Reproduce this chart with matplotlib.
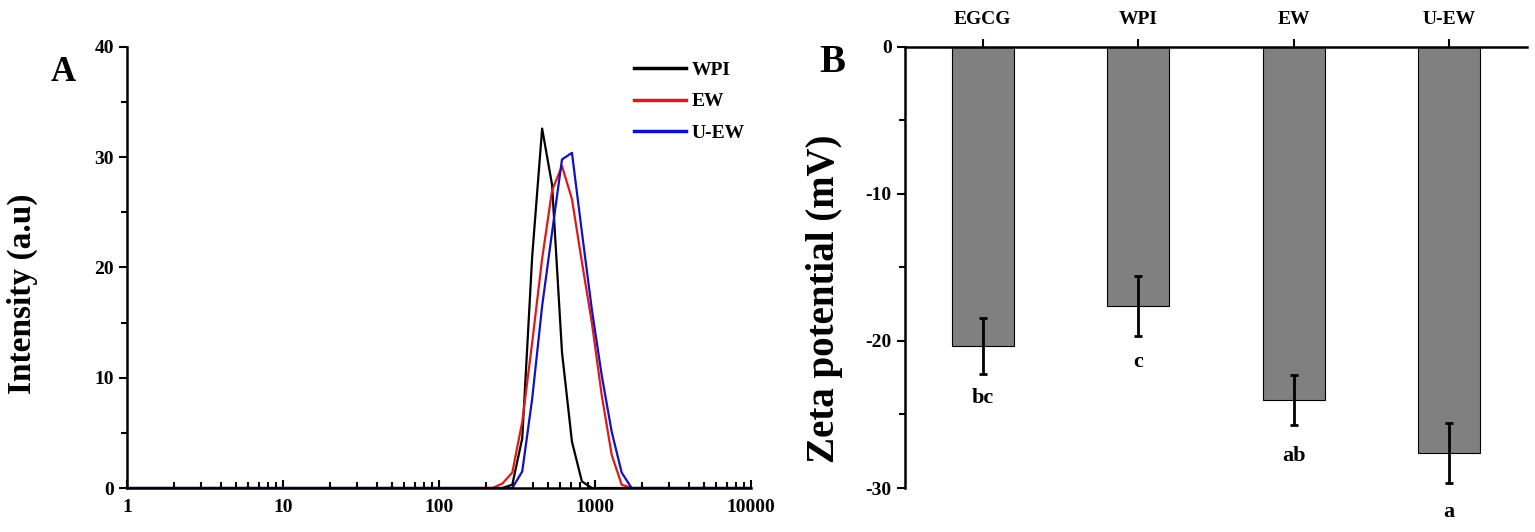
import numpy as np
import matplotlib
matplotlib.use("Agg")
import matplotlib.pyplot as plt
from matplotlib.ticker import MultipleLocator, LogLocator, NullFormatter

plt.rcParams['font.family'] = ['Liberation Serif', 'DejaVu Serif']
plt.rcParams['font.weight'] = 'bold'
plt.rcParams['axes.unicode_minus'] = False

# panel A: size distribution (nm) vs intensity
sizes = [1, 220, 255, 295.3, 342, 396.1, 458.7, 531.2, 615.1, 712.4, 825, 955.4,
         1106, 1281, 1484, 1718, 1990, 10000]
wpi = [0, 0, 0, 0.3, 4.5, 21.0, 32.6, 27.5, 12.3, 4.2, 0.6, 0, 0, 0, 0, 0, 0, 0]
ew = [0, 0, 0.4, 1.4, 6.0, 13.2, 20.8, 27.0, 29.2, 26.2, 20.5, 15.0, 8.4, 3.0, 0.3, 0, 0, 0]
uew = [0, 0, 0, 0, 1.5, 8.1, 16.5, 23.2, 29.8, 30.4, 23.2, 16.2, 10.2, 5.1, 1.4, 0, 0, 0]

# panel B: zeta potential
samples = ['EGCG', 'WPI', 'EW', 'U-EW']
zeta = [-20.35, -17.6, -24.0, -27.6]
zeta_err = [1.9, 2.05, 1.7, 2.05]
letters = ['bc', 'c', 'ab', 'a']
letter_y = [-23.9, -21.4, -27.8, -31.6]

fig = plt.figure(figsize=(15.35, 5.32), dpi=100)
ax1 = fig.add_axes([0.0827, 0.0827, 0.4065, 0.829])
ax2 = fig.add_axes([0.5896, 0.0827, 0.4052, 0.829])

# ---- A ----
ax1.plot(sizes, wpi, color='black', lw=1.6, label='WPI')
ax1.plot(sizes, ew, color='#e01818', lw=1.6, label='EW')
ax1.plot(sizes, uew, color='#1010c8', lw=1.6, label='U-EW')
ax1.set_xscale('log')
ax1.set_xlim(1, 10000)
ax1.set_ylim(0, 40)
ax1.xaxis.set_minor_locator(LogLocator(base=10, subs=np.arange(2, 10), numticks=20))
ax1.xaxis.set_minor_formatter(NullFormatter())
ax1.set_xticks([1, 10, 100, 1000, 10000])
ax1.set_xticklabels(['1', '10', '100', '1000', '10000'])
ax1.yaxis.set_major_locator(MultipleLocator(10))
ax1.yaxis.set_minor_locator(MultipleLocator(5))
for s in ['top', 'right']:
    ax1.spines[s].set_visible(False)
for s in ['left', 'bottom']:
    ax1.spines[s].set_linewidth(1.8)
ax1.tick_params(axis='x', which='both', direction='in', width=1.5, labelsize=14, pad=8)
ax1.tick_params(axis='x', which='major', length=6)
ax1.tick_params(axis='x', which='minor', length=4)
ax1.tick_params(axis='y', which='both', direction='out', width=1.5, labelsize=14)
ax1.tick_params(axis='y', which='major', length=6)
ax1.tick_params(axis='y', which='minor', length=4)
ax1.set_ylabel('Intensity (a.u)', fontsize=24, fontweight='bold')
ax1.yaxis.set_label_coords(-0.143, 0.44)
leg = ax1.legend(loc='upper left', bbox_to_anchor=(0.812, 0.967), frameon=False,
                 fontsize=14, handlelength=2.7, handletextpad=0.3, labelspacing=0.7,
                 borderaxespad=0, borderpad=0)
for ln in leg.get_lines():
    ln.set_linewidth(2.5)
fig.text(0.041, 0.863, 'A', fontsize=25, fontweight='bold', ha='center', va='center')

# ---- B ----
x = np.arange(len(samples))
ax2.bar(x, zeta, width=0.4, color='#808080', edgecolor='black', linewidth=0.8)
ax2.errorbar(x, zeta, yerr=zeta_err, fmt='none', ecolor='black', elinewidth=2,
             capsize=3, capthick=2)
for xi, lab, ly in zip(x, letters, letter_y):
    ax2.text(xi, ly, lab, ha='center', va='center', fontsize=16, fontweight='bold',
             clip_on=False)
ax2.set_xlim(-0.5, 3.5)
ax2.set_ylim(-30, 0)
ax2.xaxis.tick_top()
ax2.set_xticks(x)
ax2.set_xticklabels(samples)
ax2.yaxis.set_major_locator(MultipleLocator(10))
ax2.yaxis.set_minor_locator(MultipleLocator(5))
for s in ['bottom', 'right']:
    ax2.spines[s].set_visible(False)
for s in ['left', 'top']:
    ax2.spines[s].set_linewidth(1.8)
ax2.tick_params(axis='x', which='both', direction='out', width=1.5, length=6,
                labelsize=14, pad=8)
ax2.tick_params(axis='y', which='both', direction='out', width=1.5, labelsize=14)
ax2.tick_params(axis='y', which='major', length=6)
ax2.tick_params(axis='y', which='minor', length=4)
ax2.set_ylabel('Zeta potential (mV)', fontsize=28, fontweight='bold')
ax2.yaxis.set_label_coords(-0.10, 0.43)
fig.text(0.542, 0.883, 'B', fontsize=28, fontweight='bold', ha='center', va='center')

plt.savefig('out.png', dpi=100)
